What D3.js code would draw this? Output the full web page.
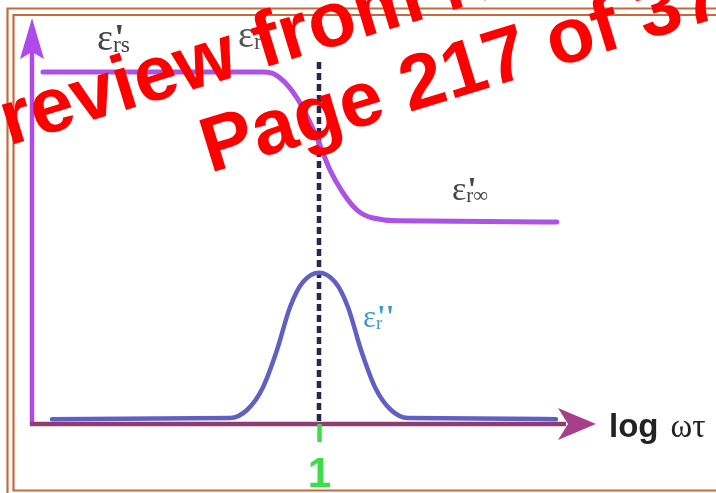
<!DOCTYPE html>
<html>
<head>
<meta charset="utf-8">
<script src="https://cdn.jsdelivr.net/npm/d3@7/dist/d3.min.js"></script>
<style>
  html, body { margin: 0; padding: 0; background: #ffffff; }
  svg { display: block; }
</style>
</head>
<body>
<div id="chart"></div>
<script>
// Debye relaxation sketch: real part (step) and imaginary part (loss peak) vs log ωτ
const width = 716, height = 493;

// log ωτ sample positions and values of the real permittivity ε'r
const realLogWT = [-2.76, -0.56, -0.47, -0.39, -0.30, -0.22, -0.11, 0.00, 0.11, 0.24, 0.38, 0.54, 0.78, 2.38];
const realEps   = [ 8.80,  8.80,  8.77,  8.65,  8.43,  8.15,  7.65, 7.03, 6.35, 5.78, 5.35, 5.15, 5.08, 5.05];

// log ωτ sample positions and values of the loss factor ε''r
const lossLogWT = [-2.67, -0.89, -0.72, -0.56, -0.42, -0.29, -0.16, 0.00, 0.16, 0.29, 0.42, 0.56, 0.72, 0.89, 2.37];
const lossEps   = [ 0.12,  0.15,  0.35,  0.92,  1.85,  2.92,  3.55, 3.78, 3.55, 2.92, 1.85, 0.92, 0.35, 0.15, 0.12];

// axis ticks
const tickValues = [0];
const tickLabels = ["1"];

// axis extents in data units
const xAxisExtent = [-2.87, 2.77];
const yAxisExtent = [0, 10.15];

const x = d3.scaleLinear().domain([-3, 3]).range([19, 619]);
const y = d3.scaleLinear().domain([0, 10]).range([424, 24]);

const svg = d3.select("#chart").append("svg")
  .attr("width", width).attr("height", height);

const defs = svg.append("defs");
defs.append("filter").attr("id", "soft")
  .attr("x", "-5%").attr("y", "-5%").attr("width", "110%").attr("height", "110%")
  .append("feGaussianBlur").attr("stdDeviation", 0.6);

// page frame
const frameColor = "#c8693c";
const frame = svg.append("g").attr("fill", "none").attr("stroke", frameColor).attr("stroke-width", 2.2);
frame.append("path").attr("d", "M7.5,493 V8.5 H716");
frame.append("path").attr("d", "M13.5,490.5 V15 H716");
frame.append("path").attr("d", "M12.5,490.5 H716");

const plot = svg.append("g").attr("filter", "url(#soft)");

// vertical axis with arrow
const yCol = "#b048ea";
const ax0 = x(xAxisExtent[0]);
plot.append("line")
  .attr("x1", ax0).attr("x2", ax0)
  .attr("y1", y(0) + 2).attr("y2", y(yAxisExtent[1]) + 30)
  .attr("stroke", yCol).attr("stroke-width", 4.5);
const ty = y(yAxisExtent[1]);
plot.append("path")
  .attr("d", `M${ax0},${ty} L${ax0 + 12},${ty + 41} L${ax0},${ty + 34} L${ax0 - 12},${ty + 41} Z`)
  .attr("fill", yCol);

// horizontal axis with arrow
const xLineCol = "#8e3c6e", xArrowCol = "#a6408a";
const tx = x(xAxisExtent[1]);
plot.append("line")
  .attr("x1", ax0 - 2).attr("x2", tx - 30)
  .attr("y1", y(0)).attr("y2", y(0))
  .attr("stroke", xLineCol).attr("stroke-width", 4.5);
plot.append("path")
  .attr("d", `M${tx},${y(0)} L${tx - 38},${y(0) - 16} L${tx - 28},${y(0)} L${tx - 38},${y(0) + 16} Z`)
  .attr("fill", xArrowCol);

// ωτ = 1 marker
plot.append("line")
  .attr("x1", x(0)).attr("x2", x(0))
  .attr("y1", y(9.05)).attr("y2", y(0))
  .attr("stroke", "#25254f").attr("stroke-width", 4.5)
  .attr("stroke-dasharray", "7,4");

const xAxis = d3.axisBottom(x)
  .tickValues(tickValues)
  .tickFormat((d, i) => tickLabels[i])
  .tickSize(18)
  .tickPadding(15);
const gx = plot.append("g").attr("transform", `translate(0,${y(0)})`).call(xAxis);
gx.select(".domain").remove();
gx.selectAll(".tick line").attr("stroke", "#3ddc48").attr("stroke-width", 4.5);
gx.selectAll(".tick text")
  .attr("fill", "#3ddc48")
  .attr("font-family", "Liberation Sans, Arial, sans-serif")
  .attr("font-weight", "bold")
  .attr("font-size", 42);

// curves
const line = d3.line().x(d => x(d[0])).y(d => y(d[1])).curve(d3.curveMonotoneX);

plot.append("path")
  .datum(lossLogWT.map((v, i) => [v, lossEps[i]]))
  .attr("d", line)
  .attr("fill", "none").attr("stroke", "#6060c2").attr("stroke-width", 4.5)
  .attr("stroke-linecap", "round");

plot.append("path")
  .datum(realLogWT.map((v, i) => [v, realEps[i]]))
  .attr("d", line)
  .attr("fill", "none").attr("stroke", "#ac52e6").attr("stroke-width", 5)
  .attr("stroke-linecap", "round");

// symbol labels: ε with primes and a subscript
function epsLabel(px, py, primes, sub, size, color) {
  const g = plot.append("g").attr("fill", color)
    .attr("font-family", "Liberation Serif, 'DejaVu Serif', serif");
  const e = g.append("text").attr("x", px).attr("y", py).attr("font-size", size).text("ε");
  const w = e.node().getComputedTextLength();
  g.append("text").attr("x", px + w + 1).attr("y", py).attr("font-size", size)
    .attr("font-weight", "bold").text(primes);
  g.append("text").attr("x", px + w).attr("y", py + size * 0.06)
    .attr("font-size", size * 0.62).text(sub);
}
epsLabel(97, 50, "'", "rs", 38, "#444444");
epsLabel(238, 47, "'", "r", 38, "#555555");
epsLabel(452, 200, "'", "r∞", 34, "#444444");
epsLabel(363, 327, "''", "r", 31, "#3b9cc8");

// axis title
const title = plot.append("text").attr("x", 609).attr("y", 437).attr("fill", "#222");
title.append("tspan")
  .attr("font-family", "Liberation Sans, Arial, sans-serif")
  .attr("font-weight", "bold").attr("font-size", 33).text("log");
title.append("tspan")
  .attr("font-family", "Liberation Serif, serif").attr("font-size", 33)
  .attr("dx", 12).text("ωτ");

// watermark
const wm = svg.append("g")
  .attr("fill", "#ff0000")
  .attr("font-family", "Liberation Sans, Arial, sans-serif")
  .attr("font-weight", "bold")
  .attr("font-size", 78);
wm.append("text").attr("transform", "translate(-41,161) rotate(-17)").text("Preview from Notesale.co.uk");
wm.append("text").attr("transform", "translate(210,173) rotate(-17)").text("Page 217 of 374");
</script>
</body>
</html>
